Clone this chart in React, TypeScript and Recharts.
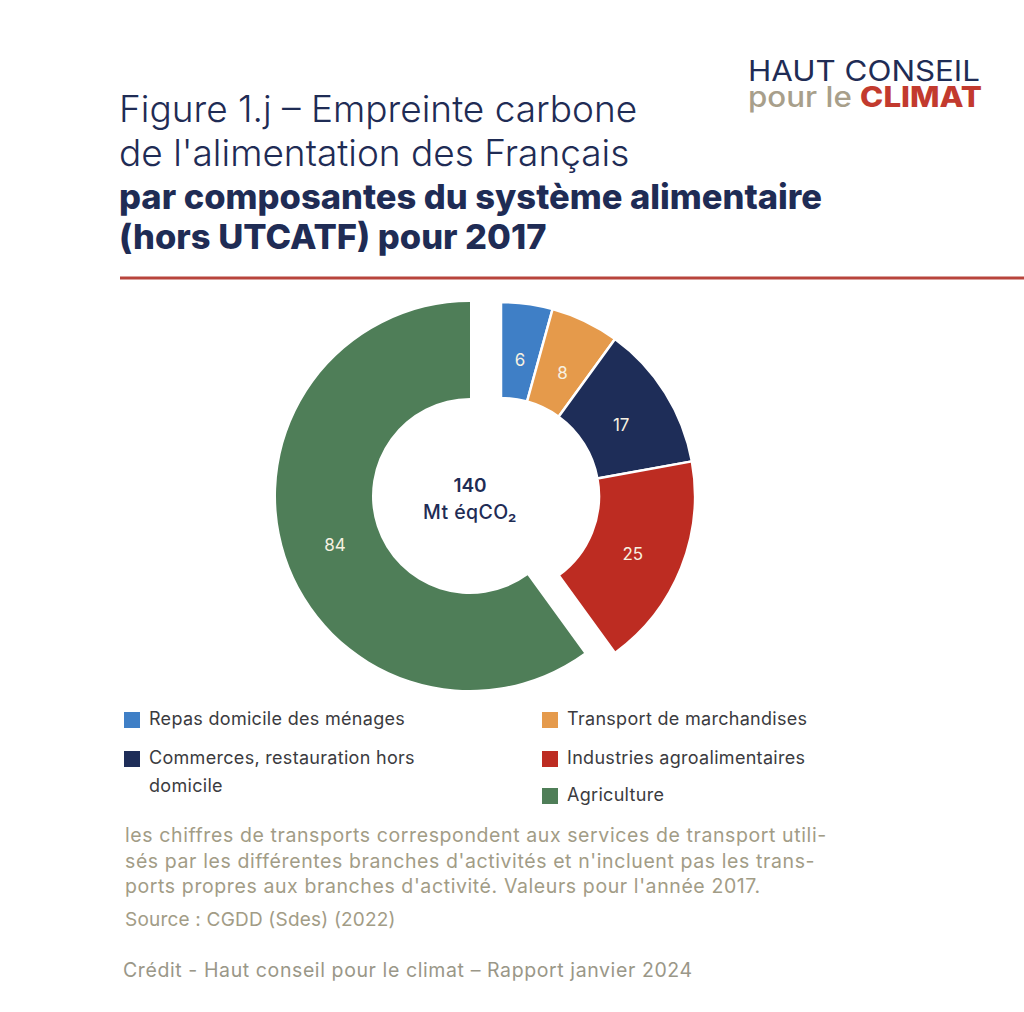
import React from 'react';
import { PieChart, Pie, Cell, Legend } from 'recharts';

const categories = [
  'Repas domicile des ménages',
  'Transport de marchandises',
  'Commerces, restauration hors domicile',
  'Industries agroalimentaires',
  'Agriculture',
];
const values = [6, 8, 17, 25, 84];
const colors = ['#3f7fc6', '#e59a4b', '#1e2d58', '#bd2c22', '#4f7e58'];
const totalLabel = '140';
const unitLabel = 'Mt éqCO₂';

const titleLines = ['Figure 1.j – Empreinte carbone', "de l'alimentation des Français"];
const titleBoldLines = ['par composantes du système alimentaire', '(hors UTCATF) pour 2017'];
const noteLines = [
  'les chiffres de transports correspondent aux services de transport utili-',
  "sés par les différentes branches d'activités et n'incluent pas les trans-",
  "ports propres aux branches d'activité. Valeurs pour l'année 2017.",
];
const sourceText = 'Source : CGDD (Sdes) (2022)';
const creditText = 'Crédit - Haut conseil pour le climat – Rapport janvier 2024';

const rows = categories.map((name, i) => ({ name, value: values[i], color: colors[i] }));
const smallRows = rows.slice(0, 4);
const bigRows = rows.slice(4);
const total = values.reduce((a, b) => a + b, 0);
const smallSum = smallRows.reduce((a, r) => a + r.value, 0);
const splitAngle = 90 - (360 * smallSum) / total;

const FONT = 'Inter, "Noto Sans", sans-serif';
const NAVY = '#1f2c55';
const RADIAN = Math.PI / 180;

const renderLabel = (props: any) => {
  const { cx, cy, midAngle, value } = props;
  const r = 142;
  const x = cx + r * Math.cos(-midAngle * RADIAN);
  const y = cy + r * Math.sin(-midAngle * RADIAN) + 5;
  return (
    <text x={x} y={y} fill="#f7f1e1" fontSize={17} fontFamily={FONT} textAnchor="middle" dominantBaseline="central">
      {value}
    </text>
  );
};

const legendPlacement = [
  { x: 124, y: 726, lines: ['Repas domicile des ménages'] },
  { x: 542, y: 726, lines: ['Transport de marchandises'] },
  { x: 124, y: 765, lines: ['Commerces, restauration hors', 'domicile'] },
  { x: 542, y: 765, lines: ['Industries agroalimentaires'] },
  { x: 542, y: 802, lines: ['Agriculture'] },
];

const renderLegend = () => (
  <div style={{ position: 'relative', width: 1024, height: 120 }}>
    {rows.map((r, i) => {
      const p = legendPlacement[i];
      return (
        <div key={r.name} style={{ position: 'absolute', left: p.x, top: p.y - 700 - 14 }}>
          <div style={{ position: 'absolute', left: 0, top: 0, width: 16, height: 16, background: r.color }} />
          {p.lines.map((ln, k) => (
            <div
              key={k}
              style={{
                position: 'absolute',
                left: 25,
                top: -5 + k * 28,
                whiteSpace: 'nowrap',
                fontFamily: FONT,
                fontSize: 18,
                letterSpacing: 0.3,
                lineHeight: '24px',
                color: '#3b3b40',
              }}
            >
              {ln}
            </div>
          ))}
        </div>
      );
    })}
  </div>
);

export default function App() {
  return (
    <div style={{ position: 'absolute', left: 0, top: 0, width: 1024, height: 1012, background: '#fff', overflow: 'hidden' }}>
      <div style={{ position: 'absolute', left: 0, top: 0 }}>
        <PieChart width={1024} height={1012} margin={{ top: 0, right: 0, bottom: 0, left: 0 }}>
          <Pie
            data={smallRows}
            dataKey="value"
            nameKey="name"
            cx={501}
            cy={496}
            innerRadius={98}
            outerRadius={194}
            startAngle={90}
            endAngle={splitAngle}
            stroke="#ffffff"
            strokeWidth={2.5}
            label={renderLabel}
            labelLine={false}
            isAnimationActive={false}
          >
            {smallRows.map((r) => (
              <Cell key={r.name} fill={r.color} />
            ))}
          </Pie>
          <Pie
            data={bigRows}
            dataKey="value"
            nameKey="name"
            cx={470}
            cy={496}
            innerRadius={98}
            outerRadius={194}
            startAngle={splitAngle}
            endAngle={-270}
            stroke="none"
            label={renderLabel}
            labelLine={false}
            isAnimationActive={false}
          >
            {bigRows.map((r) => (
              <Cell key={r.name} fill={r.color} />
            ))}
          </Pie>
          <Legend
            content={renderLegend}
            wrapperStyle={{ position: 'absolute', left: 0, top: 700, width: 1024, height: 120 }}
          />
        </PieChart>
      </div>
      <svg width={1024} height={1012} style={{ position: 'absolute', left: 0, top: 0, pointerEvents: 'none' }}>
        <g fontFamily={FONT}>
          <text x={748} y={81} fontSize={28} fill={NAVY} fontWeight={400} textLength={232} lengthAdjust="spacingAndGlyphs">
            HAUT CONSEIL
          </text>
          <text x={748} y={107} fontSize={28} fontWeight={500} textLength={234} lengthAdjust="spacingAndGlyphs">
            <tspan fill="#a89f8b">pour le </tspan>
            <tspan fill="#c23a2e" fontWeight={800}>CLIMAT</tspan>
          </text>
          <text x={119} y={122} fontSize={37} fontWeight={300} fill={NAVY}>{titleLines[0]}</text>
          <text x={119} y={166} fontSize={37} fontWeight={300} fill={NAVY}>{titleLines[1]}</text>
          <text x={119} y={209} fontSize={34.5} fontWeight={800} fill={NAVY}>{titleBoldLines[0]}</text>
          <text x={119} y={249} fontSize={34.5} fontWeight={800} fill={NAVY}>{titleBoldLines[1]}</text>
          <line x1={120} x2={1024} y1={278} y2={278} stroke="#b8443c" strokeWidth={3} />
          <text x={470} y={492} fontSize={19} fontWeight={600} fill={NAVY} textAnchor="middle">{totalLabel}</text>
          <text x={470} y={519} fontSize={19.5} fontWeight={500} fill={NAVY} textAnchor="middle" letterSpacing={0.4}>{unitLabel}</text>
          {noteLines.map((ln, i) => (
            <text key={i} x={125} y={[842, 868, 893][i]} fontSize={19.5} letterSpacing={0.6} fill="#a29c86">{ln}</text>
          ))}
          <text x={125} y={926} fontSize={19} letterSpacing={0.2} fill="#a29c86">{sourceText}</text>
          <text x={123} y={977} fontSize={19.5} letterSpacing={0.6} fill="#9a9788">{creditText}</text>
        </g>
      </svg>
    </div>
  );
}
